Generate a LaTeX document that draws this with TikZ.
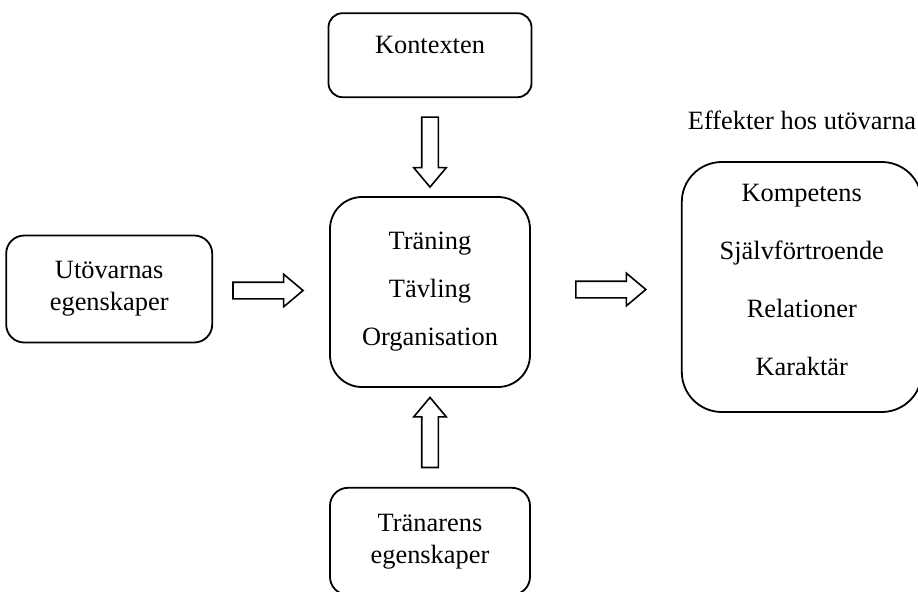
\documentclass[tikz,border=0pt]{standalone}
\usepackage{fontspec}
\setmainfont{Liberation Serif}
\usetikzlibrary{positioning,calc,shapes.arrows}
\tikzset{
  rbox/.style={draw, line width=0.9pt, align=center, inner sep=0pt},
  arr/.style={draw, single arrow, line width=0.8pt, minimum height=35pt, minimum width=0pt,
    text height=0pt, text depth=0pt, inner xsep=0pt, inner ysep=3.75pt,
    single arrow head extend=4pt, single arrow tip angle=80},
  toptext/.style={anchor=base west}
}
\begin{document}
\begin{tikzpicture}[x=1pt, y=1pt, font=\fontsize{13.2}{16}\selectfont]
\useasboundingbox (0,0) rectangle (459,-295.5);
% centre box
\node[rbox, rounded corners=16pt, minimum width=100pt, minimum height=95pt] (proc) at (215,-146)
  {Träning\\[8pt] Tävling\\[8pt] Organisation};
\node[rbox, rounded corners=7pt, minimum width=101.5pt, text height=20.25pt, text depth=21.75pt,
  above=49pt of proc] (kontext) {Kontexten};
\node[rbox, rounded corners=9pt, minimum width=103pt, minimum height=53.5pt,
  left=58pt of proc, yshift=1.5pt] (player) {Utövarnas\\ egenskaper};
\node[rbox, rounded corners=9pt, minimum width=100pt, minimum height=53.5pt,
  below=49.5pt of proc] (trainer) {Tränarens\\ egenskaper};
\node[rbox, rounded corners=20pt, minimum width=120pt, minimum height=125pt,
  right=75pt of proc, yshift=2.5pt] (effekt)
  {Kompetens\\[13pt] Självförtroende\\[13pt] Relationer\\[13pt] Karaktär\\[-8.5pt]\mbox{}};
\node[toptext] (efflabel) at ($(effekt.north west)+(0,16)$) {Effekter hos utövarna};
% block arrows
\node[arr, rotate=-90] (a1) at ($(kontext.south)!0.5!(proc.north)$) {};
\node[arr, rotate=90] (a2) at ($(proc.south)!0.5!(trainer.north)$) {};
\node[arr, xshift=-4pt] (a3) at ($(player.east)!0.5!(proc.west)$) {};
\node[arr] (a4) at ($(proc.east)!0.5!(effekt.west)$) {};
\end{tikzpicture}
\end{document}
